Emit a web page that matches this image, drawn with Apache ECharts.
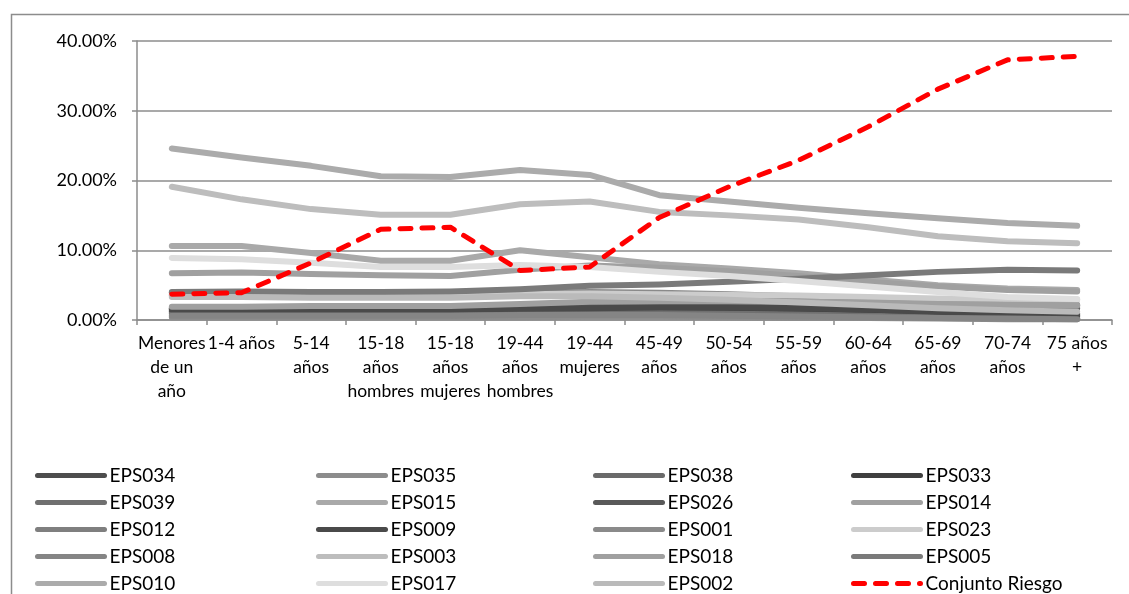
<!DOCTYPE html>
<html>
<head>
<meta charset="utf-8">
<script src="https://cdn.jsdelivr.net/npm/echarts@6/dist/echarts.min.js"></script>
<style>
html,body{margin:0;padding:0;background:#fff;}
#chart{width:1129px;height:594px;}
</style>
</head>
<body>
<div id="chart"></div>
<script>
const categories = ["Menores\nde un\naño","1-4 años","5-14\naños","15-18\naños\nhombres","15-18\naños\nmujeres","19-44\naños\nhombres","19-44\nmujeres","45-49\naños","50-54\naños","55-59\naños","60-64\naños","65-69\naños","70-74\naños","75 años\n+"];
const yTicks = [0, 10, 20, 30, 40];

const EPS034 = [1.7,1.8,1.8,1.8,1.8,1.9,2.0,2.0,1.9,1.8,1.6,1.3,1.0,0.9];
const EPS035 = [0.4,0.4,0.4,0.4,0.4,0.4,0.5,0.5,0.4,0.3,0.3,0.2,0.1,0.1];
const EPS038 = [1.1,1.1,1.1,1.1,1.1,1.2,1.2,1.2,1.1,1.0,0.8,0.6,0.4,0.3];
const EPS033 = [1.3,1.3,1.3,1.3,1.3,1.4,1.5,1.5,1.5,1.4,1.2,0.9,0.6,0.5];
const EPS039 = [0.9,0.9,0.9,0.9,0.9,1.0,1.0,1.0,0.9,0.8,0.6,0.4,0.3,0.2];
const EPS015 = [10.6,10.6,9.6,8.5,8.5,10.0,9.0,8.0,7.4,6.7,5.8,5.0,4.5,4.3];
const EPS026 = [1.6,1.7,1.7,1.7,1.7,1.8,1.9,2.0,2.0,2.0,1.9,1.8,1.7,1.7];
const EPS014 = [6.7,6.8,6.6,6.4,6.3,7.2,7.8,7.5,7.0,6.3,5.5,4.8,4.3,4.1];
const EPS012 = [3.9,3.9,3.8,3.8,3.8,4.0,3.9,3.7,3.5,3.2,2.8,2.5,2.2,2.0];
const EPS009 = [1.5,1.5,1.5,1.5,1.5,1.6,1.7,1.8,1.8,1.7,1.5,1.2,0.9,0.7];
const EPS001 = [3.6,3.6,3.6,3.6,3.6,3.8,4.0,3.9,3.7,3.4,3.0,2.6,2.3,2.2];
const EPS023 = [3.5,3.5,3.4,3.4,3.4,3.7,3.8,3.7,3.6,3.5,3.3,3.1,3.0,2.9];
const EPS008 = [0.6,0.6,0.6,0.6,0.6,0.7,0.7,0.7,0.6,0.5,0.4,0.3,0.2,0.1];
const EPS003 = [19.1,17.3,15.9,15.1,15.1,16.6,17.0,15.5,15.0,14.4,13.3,12.0,11.3,11.0];
const EPS018 = [1.9,1.9,2.0,2.0,2.0,2.3,2.6,2.7,2.7,2.6,2.5,2.3,2.2,2.1];
const EPS005 = [4.0,4.1,4.0,4.0,4.1,4.4,4.9,5.1,5.5,5.9,6.4,6.9,7.2,7.1];
const EPS010 = [24.6,23.3,22.1,20.6,20.5,21.5,20.8,17.9,17.0,16.1,15.3,14.6,13.9,13.5];
const EPS017 = [8.9,8.7,8.2,7.6,7.6,7.9,7.6,6.9,6.3,5.6,4.8,4.0,3.3,3.0];
const EPS002 = [3.3,3.3,3.2,3.2,3.2,3.4,3.4,3.2,2.9,2.5,2.1,1.7,1.4,1.2];
const conjuntoRiesgo = [3.7,3.9,8.2,13.0,13.3,7.1,7.6,14.7,19.1,22.9,27.7,33.1,37.3,37.8];

const seriesList = [
  ["EPS034", EPS034, "#4d4d4d"],
  ["EPS035", EPS035, "#8c8c8c"],
  ["EPS038", EPS038, "#6a6a6a"],
  ["EPS033", EPS033, "#3f3f3f"],
  ["EPS039", EPS039, "#707070"],
  ["EPS015", EPS015, "#a9a9a9"],
  ["EPS026", EPS026, "#595959"],
  ["EPS014", EPS014, "#a0a0a0"],
  ["EPS012", EPS012, "#7f7f7f"],
  ["EPS009", EPS009, "#4a4a4a"],
  ["EPS001", EPS001, "#8a8a8a"],
  ["EPS023", EPS023, "#cccccc"],
  ["EPS008", EPS008, "#858585"],
  ["EPS003", EPS003, "#bdbdbd"],
  ["EPS018", EPS018, "#a0a0a0"],
  ["EPS005", EPS005, "#7a7a7a"],
  ["EPS010", EPS010, "#ababab"],
  ["EPS017", EPS017, "#dedede"],
  ["EPS002", EPS002, "#bababa"]
];

const legendCols = [
  ["EPS034","EPS039","EPS012","EPS008","EPS010"],
  ["EPS035","EPS015","EPS009","EPS003","EPS017"],
  ["EPS038","EPS026","EPS001","EPS018","EPS002"],
  ["EPS033","EPS014","EPS023","EPS005","Conjunto Riesgo"]
];
const legendX = [35, 316, 593, 851];

const FONT = "Lato";
const series = seriesList.map(([name, data, color]) => ({
  name, type: "line", data, symbol: "none", smooth: false,
  lineStyle: { color, width: 6, cap: "round", join: "round" },
  itemStyle: { color },
  emphasis: { disabled: true }
}));
series.push({
  name: "Conjunto Riesgo", type: "line", data: conjuntoRiesgo, symbol: "none",
  lineStyle: { color: "#ff0000", width: 5, type: [11, 11], cap: "round", join: "round" },
  itemStyle: { color: "#ff0000" },
  emphasis: { disabled: true },
  z: 5
});

const legends = legendCols.map((names, i) => ({
  data: names,
  orient: "vertical",
  left: legendX[i],
  top: 466,
  height: 300,
  padding: 0,
  itemWidth: 67,
  itemHeight: 18,
  itemGap: 8,
  selectedMode: false,
  itemStyle: { opacity: 0 },
  lineStyle: { width: 5, cap: "round" },
  textStyle: { fontFamily: FONT, fontSize: 19, color: "#000", lineHeight: 18, padding: [0,0,0,0] }
}));

const chart = echarts.init(document.getElementById("chart"), null, { renderer: "canvas" });
chart.setOption({
  animation: false,
  backgroundColor: "#fff",
  graphic: [{
    type: "rect", left: 9, top: 12, silent: true, z: -10,
    shape: { x: 0, y: 0, width: 1400, height: 900 },
    style: { fill: null, stroke: "#8c8c8c", lineWidth: 1.5 }
  }],
  grid: { left: 137, right: 17, top: 41, bottom: 274, containLabel: false },
  legend: legends,
  xAxis: {
    type: "category",
    data: categories,
    boundaryGap: true,
    axisLine: { lineStyle: { color: "#8c8c8c", width: 1.5 } },
    axisTick: { show: true, length: 5, inside: false, lineStyle: { color: "#8c8c8c", width: 1.5 } },
    axisLabel: { interval: 0, margin: 11, color: "#000", fontFamily: FONT, fontSize: 17.5, lineHeight: 24, hideOverlap: false }
  },
  yAxis: {
    type: "value",
    min: yTicks[0], max: yTicks[yTicks.length - 1], interval: 10,
    axisLine: { show: true, lineStyle: { color: "#8c8c8c", width: 1.5 } },
    axisTick: { show: true, length: 5, lineStyle: { color: "#8c8c8c", width: 1.5 } },
    splitLine: { show: true, lineStyle: { color: "#8c8c8c", width: 1.5 } },
    axisLabel: { margin: 20, color: "#000", fontFamily: FONT, fontSize: 18, formatter: v => v.toFixed(2) + "%" }
  },
  series
});
</script>
</body>
</html>
